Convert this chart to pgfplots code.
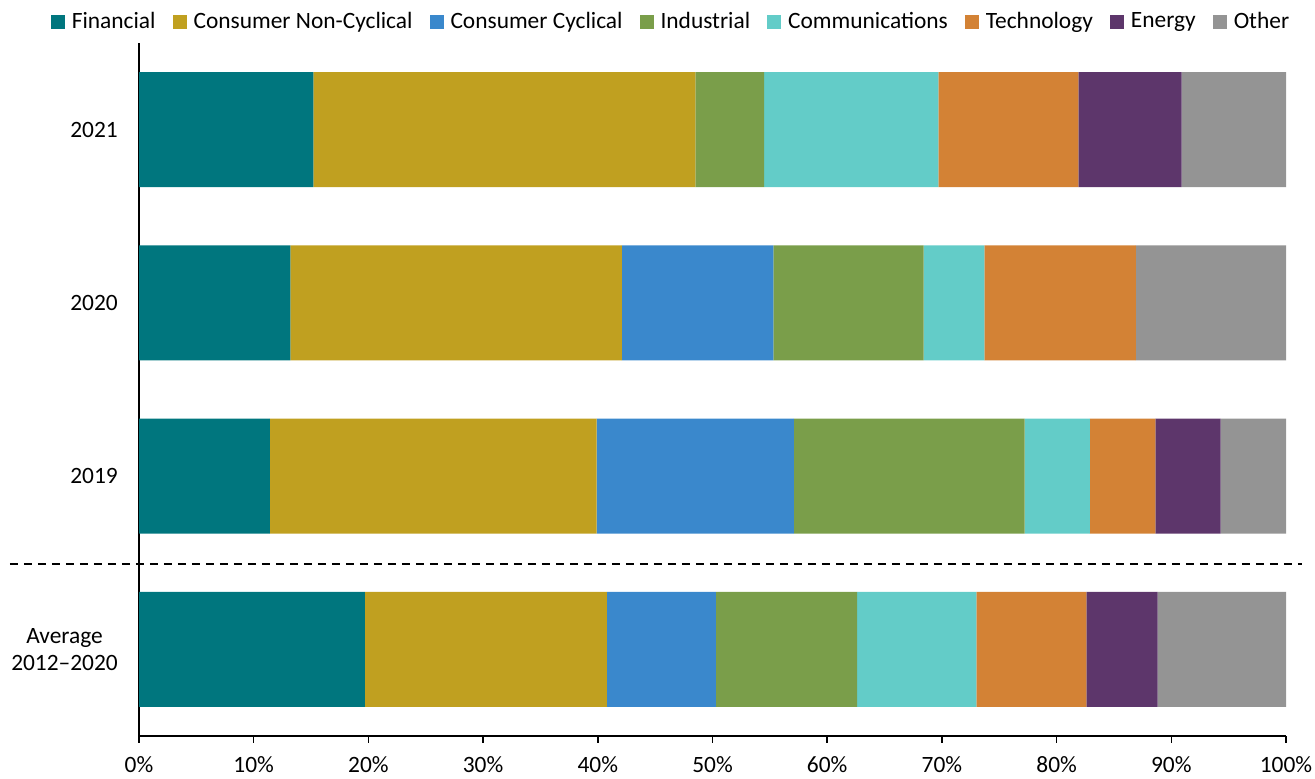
\documentclass[border=0pt]{standalone}
\usepackage{fontspec}
\setmainfont{Carlito}
\usepackage{pgfplots}
\pgfplotsset{compat=1.18}
\definecolor{cFin}{RGB}{0,118,126}
\definecolor{cCNC}{RGB}{192,160,32}
\definecolor{cCC}{RGB}{58,136,204}
\definecolor{cInd}{RGB}{122,158,74}
\definecolor{cCom}{RGB}{99,204,200}
\definecolor{cTec}{RGB}{211,130,53}
\definecolor{cEne}{RGB}{93,54,107}
\definecolor{cOth}{RGB}{148,148,148}
\begin{document}
\fontsize{11.7}{13.5}\selectfont
\begin{tikzpicture}
\begin{axis}[name=ax,
  xbar stacked, scale only axis, width=573.5pt, height=346.5pt,
  xmin=0, xmax=100, ymin=-0.5, ymax=3.5,
  bar width=57.5pt,
  axis x line*=bottom, axis y line*=left,
  axis line style={line width=0.75pt, black, -},
  xtick={0,10,...,100}, xticklabel={\pgfmathprintnumber{\tick}\%},
  ytick={0,1,2,3}, yticklabels={{Average\\2012–2020},2019,2020,2021},
  yticklabel style={align=center, xshift=-3pt},
  y tick style={draw=none},
  x tick style={line width=0.75pt, black},
  tick align=outside, major tick length=3.5pt,
  xticklabel style={yshift=-2.5pt},
  tick label style={font=\fontsize{11.7}{13.5}\selectfont},
  /pgf/number format/assume math mode=true,
  clip=false,
  legend columns=8,
  legend style={draw=none, fill=none, at={(0.466,1.0307)}, anchor=center,
    font=\fontsize{11.7}{13.5}\selectfont,
    /tikz/every even column/.append style={column sep=5pt},
    nodes={inner xsep=3.5pt, inner ysep=1pt}},
  legend image code/.code={\fill[#1] (0pt,-3.5pt) rectangle (7pt,3.5pt);},
  every axis plot/.append style={draw=none},
]
\addplot[fill=cFin] coordinates {(19.7,0) (11.4,1) (13.2,2) (15.2,3)};
\addplot[fill=cCNC] coordinates {(21.1,0) (28.5,1) (28.9,2) (33.3,3)};
\addplot[fill=cCC] coordinates {(9.5,0) (17.2,1) (13.2,2) (0,3)};
\addplot[fill=cInd] coordinates {(12.3,0) (20.1,1) (13.1,2) (6.0,3)};
\addplot[fill=cCom] coordinates {(10.4,0) (5.7,1) (5.3,2) (15.2,3)};
\addplot[fill=cTec] coordinates {(9.6,0) (5.7,1) (13.2,2) (12.2,3)};
\addplot[fill=cEne] coordinates {(6.2,0) (5.7,1) (0,2) (9.0,3)};
\addplot[fill=cOth] coordinates {(11.2,0) (5.7,1) (13.1,2) (9.1,3)};
\legend{Financial, Consumer Non-Cyclical, Consumer Cyclical, Industrial, Communications, Technology, Energy, Other}
\draw[line width=1pt, dash pattern=on 4pt off 3pt] (axis cs:-11.25,0.49) -- (axis cs:101.4,0.49);
\end{axis}
\pgfresetboundingbox
\path[use as bounding box] ([shift={(-69.5pt,-21.5pt)}]ax.south west) rectangle ([shift={(14.5pt,21.5pt)}]ax.north east);
\end{tikzpicture}
\end{document}
